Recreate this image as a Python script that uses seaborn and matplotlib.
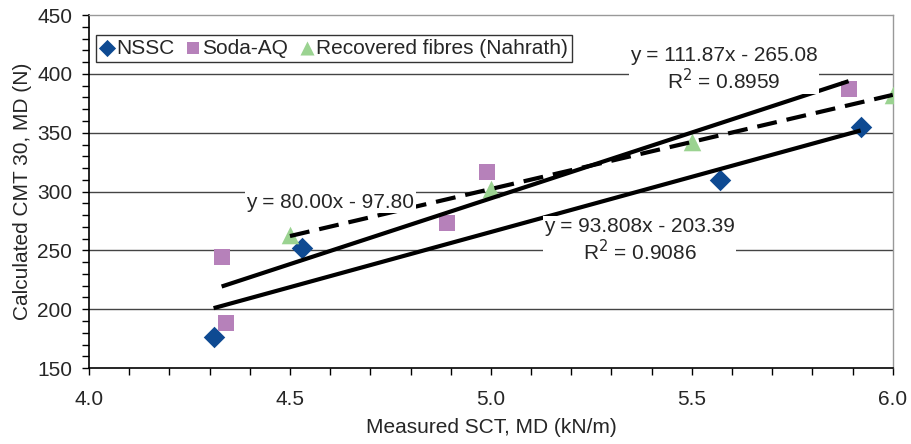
import numpy as np
import pandas as pd
import matplotlib
matplotlib.use('Agg')
import matplotlib.pyplot as plt
from matplotlib.ticker import MultipleLocator
import seaborn as sns

# data
series_names = ['NSSC', 'Soda-AQ', 'Recovered fibres (Nahrath)']

nssc_x = [4.31, 4.53, 5.57, 5.92]
nssc_y = [176, 252, 310, 355]

soda_x = [4.33, 4.34, 4.89, 4.99, 5.89]
soda_y = [244, 188, 273, 317, 387]

rec_x = [4.50, 5.00, 5.50, 6.00]
rec_y = [263, 302, 342, 382]

# trendline coefficients (slope, intercept) as printed on the chart
slopes = [93.808, 111.87, 80.00]
intercepts = [-203.39, -265.08, -97.80]
eq_labels = ['y = 93.808x - 203.39\nR$^2$ = 0.9086',
             'y = 111.87x - 265.08\nR$^2$ = 0.8959',
             'y = 80.00x - 97.80']
eq_pos = [(5.37, 258), (5.58, 404), (4.60, 291)]

colors = ['#0E4A92', '#B681BA', '#9BD391']
markers = ['D', 's', '^']
sizes = [120, 130, 160]
line_styles = ['-', '-', (0, (4.8, 2.4))]

sns.set_style('white')
plt.rcParams['font.family'] = ['Liberation Sans', 'DejaVu Sans']
FS = 15

fig = plt.figure(figsize=(9.11, 4.44), dpi=100)
ax = fig.add_axes([0.0977, 0.171, 0.8823, 0.795])

xs_all = [nssc_x, soda_x, rec_x]
ys_all = [nssc_y, soda_y, rec_y]

# horizontal gridlines
for yv in [200, 250, 300, 350, 400]:
    ax.axhline(yv, color='#444444', lw=1.0, zorder=0)

for i, name in enumerate(series_names):
    df = pd.DataFrame({'x': xs_all[i], 'y': ys_all[i]})
    sns.scatterplot(data=df, x='x', y='y', ax=ax, color=colors[i],
                    marker=markers[i], s=sizes[i], linewidth=0,
                    label=name, zorder=3)

# trendlines
for i in range(3):
    xx = np.array([min(xs_all[i]), max(xs_all[i])])
    yy = slopes[i] * xx + intercepts[i]
    ax.plot(xx, yy, color='black', lw=3.0, linestyle=line_styles[i],
            solid_capstyle='butt', zorder=4)

for i in range(3):
    ax.text(eq_pos[i][0], eq_pos[i][1], eq_labels[i], fontsize=FS,
            ha='center', va='center', linespacing=1.15, zorder=6,
            bbox=dict(facecolor='white', edgecolor='none', pad=1.0))

ax.set_xlim(4.0, 6.0)
ax.set_ylim(150, 450)
ax.xaxis.set_major_locator(MultipleLocator(0.5))
ax.xaxis.set_minor_locator(MultipleLocator(0.1))
ax.yaxis.set_major_locator(MultipleLocator(50))
ax.yaxis.set_minor_locator(MultipleLocator(10))
ax.xaxis.set_major_formatter(plt.FuncFormatter(lambda v, p: f'{v:.1f}'))
ax.tick_params(axis='both', which='both', direction='out', length=5,
               width=1, color='black', labelsize=FS, bottom=True, left=True)
ax.tick_params(axis='x', which='major', pad=11)
ax.tick_params(axis='y', which='major', pad=7)

for side in ['left', 'bottom']:
    ax.spines[side].set_color('black')
    ax.spines[side].set_linewidth(1.2)
for side in ['top', 'right']:
    ax.spines[side].set_color('#999999')
    ax.spines[side].set_linewidth(1.0)

ax.set_xlabel('Measured SCT, MD (kN/m)', fontsize=FS, labelpad=6)
ax.set_ylabel('Calculated CMT 30, MD (N)', fontsize=FS, labelpad=4)

leg = ax.legend(loc='upper left', bbox_to_anchor=(0.009, 0.945), ncol=3,
                fontsize=FS, frameon=True, fancybox=False, edgecolor='black',
                handlelength=0.6, handletextpad=0.15, columnspacing=0.6,
                borderpad=0.2, borderaxespad=0, markerscale=0.8)
leg.get_frame().set_linewidth(1.0)
leg.set_zorder(7)

fig.savefig('out.png', dpi=100)
